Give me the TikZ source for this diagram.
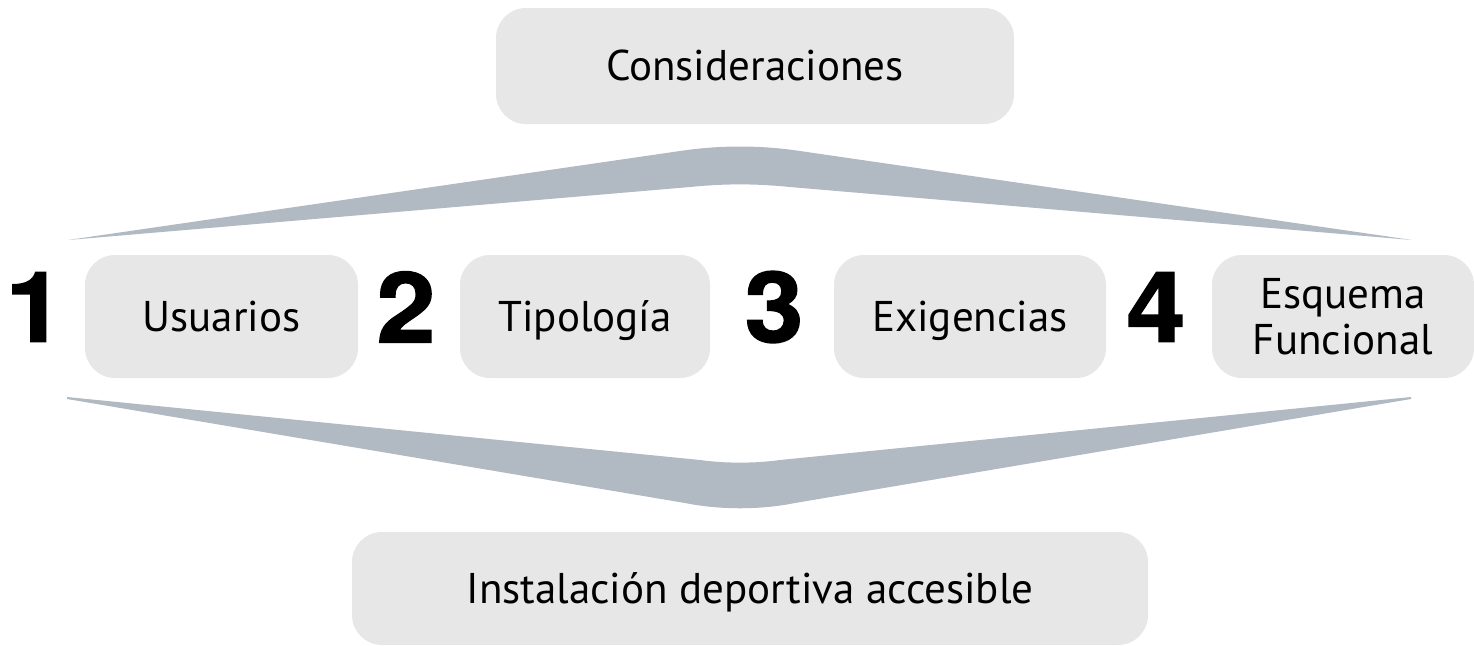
\documentclass[tikz,border=0pt]{standalone}
\usepackage{fontspec}
\setmainfont{PT Sans}
\newfontfamily\numfont{TeX Gyre Heros}[FakeStretch=1.08,FakeBold=1.5]
\usetikzlibrary{positioning}

\definecolor{boxgray}{HTML}{E7E7E7}
\definecolor{chevgray}{HTML}{B1B9C2}

\begin{document}
\begin{tikzpicture}[x=0.5pt,y=-0.5pt,
    box/.style={fill=boxgray,rounded corners=15pt,inner sep=0pt,align=center,
      minimum height=61.5pt,text height=18pt,text depth=3.5pt,
      font=\fontsize{21.5pt}{23pt}\selectfont},
    num/.style={inner sep=0pt,font=\numfont\bfseries\fontsize{49pt}{49pt}\selectfont}]
  \useasboundingbox (0,0) rectangle (1474,645);
  % chevrons
  \fill[chevgray] (68,240) -- (680,151) .. controls (720,145) and (760,145) .. (800,151)
    -- (1412,240) -- (790,187) .. controls (755,183.5) and (725,183.5) .. (690,187) -- cycle;
  \fill[chevgray] (67,397) -- (700,460) .. controls (725,463.5) and (755,463.5) .. (780,460)
    -- (1411,397) -- (1411,399) -- (795,503) .. controls (760,510) and (720,510) .. (685,503)
    -- (67,399) -- cycle;
  % boxes
  \node[box,minimum width=259pt,minimum height=58pt] (cons) at (755,66) {Consideraciones};
  \node[box,minimum width=136.5pt] (usu) at (221.5,316.5) {Usuarios};
  \node[box,minimum width=125pt] (tip) at (585,316.5) {Tipología};
  \node[box,minimum width=136pt] (exi) at (970,316.5) {Exigencias};
  \node[box,minimum width=131pt,text height=,text depth=] (esq) at (1343,316.5) {Esquema\\Funcional};
  \node[box,minimum width=398pt,minimum height=56.5pt] (inst) at (750,588.5) {Instalación deportiva accesible};
  % numbers
  \node[num] (n1) at (35,307) {1};
  \node[num] (n2) at (406,307) {2};
  \node[num] (n3) at (774,307) {3};
  \node[num] (n4) at (1156,307) {4};
\end{tikzpicture}
\end{document}
